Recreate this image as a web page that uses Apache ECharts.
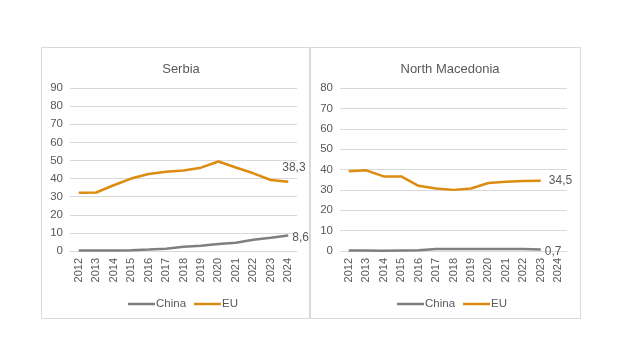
<!DOCTYPE html>
<html><head><meta charset="utf-8">
<script src="https://cdn.jsdelivr.net/npm/echarts@6/dist/echarts.min.js"></script>
<style>html,body{margin:0;padding:0;background:#fff}#c{width:620px;height:356px}</style>
</head><body><div id="c"></div>
<script>
const years = ['2012','2013','2014','2015','2016','2017','2018','2019','2020','2021','2022','2023','2024'];
const serbiaChina = [0.3,0.3,0.3,0.4,0.8,1.3,2.3,2.9,3.8,4.5,6.2,7.3,8.6];
const serbiaEU = [32.2,32.3,36.3,40.0,42.5,43.8,44.5,46.0,49.4,46.1,42.9,39.2,38.3];
const nmChina = [0.3,0.3,0.1,0.3,0.4,1.0,1.0,1.0,1.0,1.0,1.0,0.7];
const nmEU = [39.1,39.6,36.6,36.6,32.0,30.7,30.0,30.7,33.4,34.0,34.4,34.5];
const titles = ['Serbia','North Macedonia'];
const seriesNames = ['China','EU'];

const gray = '#7f7f7f', orange = '#dc8c0e', txt = '#595959', grid = '#d9d9d9';
const font = 'Liberation Sans, Arial, sans-serif';
const fmt = p => String(p.value).replace('.', ',');

function axisX(i){return {gridIndex:i,type:'category',data:years,boundaryGap:true,
  axisLine:{lineStyle:{color:grid}},axisTick:{show:false},
  axisLabel:{rotate:90,color:txt,fontSize:11,fontFamily:font,margin:7}};}
function axisY(i,max){return {gridIndex:i,type:'value',min:0,max:max,interval:10,
  axisLine:{show:false},axisTick:{show:false},splitLine:{lineStyle:{color:grid}},
  axisLabel:{color:txt,fontSize:11.5,fontFamily:font,margin:7}};}
function line(name,data,i,color,off){return {name:name,type:'line',xAxisIndex:i,yAxisIndex:i,
  data:data,symbol:'none',lineStyle:{color:color,width:2.5},itemStyle:{color:color},
  endLabel:{show:true,formatter:fmt,color:txt,fontSize:12,fontFamily:font,distance:4,offset:off}};}
function legend(left){return {left:left,top:293,itemWidth:27,itemHeight:2.5,itemGap:8,icon:'rect',
  textStyle:{color:txt,fontSize:11.5,fontFamily:font,padding:[0,0,0,-4]},data:seriesNames};}

const chart = echarts.init(document.getElementById('c'));
chart.setOption({
  backgroundColor:'#fff',
  animation:false,
  graphic:[
    {type:'rect',shape:{x:41.5,y:47.5,width:268,height:271},style:{fill:'none',stroke:grid,lineWidth:1}},
    {type:'rect',shape:{x:310.5,y:47.5,width:270,height:271},style:{fill:'none',stroke:grid,lineWidth:1}}
  ],
  title:[
    {text:titles[0],left:176,top:58,textAlign:'center',textStyle:{color:txt,fontSize:13,fontWeight:'normal',fontFamily:font}},
    {text:titles[1],left:445,top:58,textAlign:'center',textStyle:{color:txt,fontSize:13,fontWeight:'normal',fontFamily:font}}
  ],
  legend:[legend(123),legend(392)],
  grid:[
    {left:70,right:323,top:88,bottom:105},
    {left:340,right:53,top:88,bottom:105}
  ],
  xAxis:[axisX(0),axisX(1)],
  yAxis:[axisY(0,90),axisY(1,80)],
  series:[
    line(seriesNames[0],serbiaChina,0,gray,[0,2]),
    line(seriesNames[1],serbiaEU,0,orange,[-10,-14]),
    line(seriesNames[0],nmChina,1,gray,[0,2]),
    line(seriesNames[1],nmEU,1,orange,[4,0])
  ]
});
</script></body></html>
